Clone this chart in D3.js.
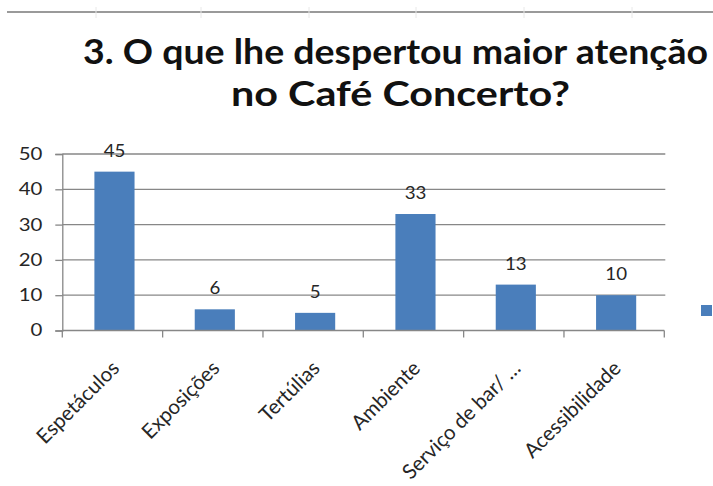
<!DOCTYPE html>
<html><head><meta charset="utf-8">
<script src="https://cdn.jsdelivr.net/npm/d3@7/dist/d3.min.js"></script>
<style>body{margin:0;background:#fff;} svg{display:block;}</style>
</head><body>
<svg id="c" width="713" height="486"></svg>
<script>
const categories = ["Espetáculos","Exposições","Tertúlias","Ambiente","Serviço de bar/ …","Acessibilidade"];
const values = [45, 6, 5, 33, 13, 10];
const yTicks = [0,10,20,30,40,50];
const titleLines = ["3. O que lhe despertou maior atenção","no Café Concerto?"];

(function(){
const svg = d3.select("#c");
const font = "Lato, 'Open Sans', sans-serif";
const barColor = "#4a7ebb";
const axisColor = "#878787";
const textColor = "#262626";
const sx = 1.2; // horizontal stretch of the reference text

// top border line with faint marks
svg.append("line").attr("x1",7).attr("x2",713).attr("y1",12).attr("y2",12)
  .attr("stroke","#9a9a9a").attr("stroke-width",2);
[96,201,309,416,524,632].forEach(xx=>{
  svg.append("line").attr("x1",xx).attr("x2",xx).attr("y1",7).attr("y2",18)
    .attr("stroke","#e8e8e8").attr("stroke-width",1);
});

// title
const tl = [{cx:395.5, y:64, len:625},{cx:400.5, y:106, len:339}];
tl.forEach((t,i)=>{
  svg.append("text").attr("x",t.cx - t.len/2).attr("y",t.y)
    .attr("textLength",t.len).attr("lengthAdjust","spacingAndGlyphs")
    .attr("font-family",font).attr("font-weight","bold").attr("font-size",34.5)
    .attr("fill","#111").text(titleLines[i]);
});

const L = 62.3, R = 664.3, T = 154, B = 330.5;
const x = d3.scaleBand().domain(categories).range([L+2, R+2]).paddingInner(0.6).paddingOuter(0.3);
const y = d3.scaleLinear().domain([0,50]).range([B, T]);

// gridlines
svg.append("g").selectAll("line").data(yTicks.filter(t=>t>0)).join("line")
  .attr("x1",L).attr("x2",R+1).attr("y1",d=>y(d)).attr("y2",d=>y(d))
  .attr("stroke",axisColor).attr("stroke-width",1.3);

// y axis
const yAxis = svg.append("g").attr("transform",`translate(${L},0)`)
  .call(d3.axisLeft(y).tickValues(yTicks).tickSize(7).tickPadding(0));
yAxis.select(".domain").attr("stroke",axisColor).attr("stroke-width",1.3);
yAxis.selectAll(".tick line").attr("stroke",axisColor).attr("stroke-width",1.3);
yAxis.selectAll(".tick text").attr("font-family",font).attr("font-size",17).attr("fill",textColor)
  .attr("x",-20/sx).attr("transform",`scale(${sx},1)`);

// bars
svg.append("g").selectAll("rect").data(values).join("rect")
  .attr("x",(d,i)=>x(categories[i])).attr("width",x.bandwidth())
  .attr("y",d=>y(d)).attr("height",d=>y(0)-y(d)).attr("fill",barColor);

// value labels
svg.append("g").selectAll("text").data(values).join("text")
  .attr("transform",(d,i)=>`translate(${x(categories[i])+x.bandwidth()/2},${y(d)-15}) scale(1.1,1)`)
  .attr("text-anchor","middle").attr("font-family",font).attr("font-size",17).attr("fill",textColor)
  .text(d=>d);

// x axis
const step = (R-L)/categories.length;
const xAxis = svg.append("g").attr("transform",`translate(0,${B})`);
xAxis.append("line").attr("x1",L).attr("x2",R).attr("stroke",axisColor).attr("stroke-width",1.6);
d3.range(categories.length+1).forEach(i=>{
  xAxis.append("line").attr("x1",L+i*step).attr("x2",L+i*step).attr("y1",0).attr("y2",7)
    .attr("stroke",axisColor).attr("stroke-width",1.3);
});
xAxis.selectAll("text.cat").data(categories).join("text").attr("class","cat")
  .attr("transform",d=>`translate(${x(d)+x.bandwidth()/2+6},${39}) rotate(-45)`)
  .attr("text-anchor","end").attr("font-family",font).attr("font-size",20.5).attr("fill",textColor)
  .text(d=>d);

// legend marker
svg.append("rect").attr("x",701).attr("y",305).attr("width",11).attr("height",11).attr("fill",barColor);
})();
</script>
</body></html>
